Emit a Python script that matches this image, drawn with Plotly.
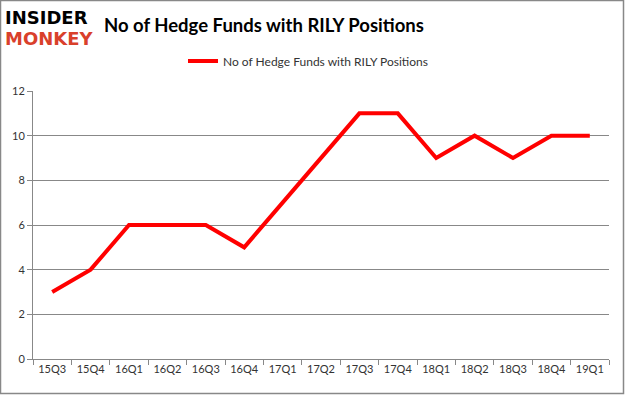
import plotly.graph_objects as go

quarters = ["15Q3", "15Q4", "16Q1", "16Q2", "16Q3", "16Q4", "17Q1", "17Q2",
            "17Q3", "17Q4", "18Q1", "18Q2", "18Q3", "18Q4", "19Q1"]
hedge_funds = [3, 4, 6, 6, 6, 5, 7, 9, 11, 11, 9, 10, 9, 10, 10]
y_ticks = [0, 2, 4, 6, 8, 10, 12]
series_name = "No of Hedge Funds with RILY Positions"

W, H = 625, 395
L, R, T, B = 33, 16, 91, 36
pw, ph = W - L - R, H - T - B

def px(x):
    return (x - L) / pw

def py(y):
    return (H - B - y) / ph

fig = go.Figure()
fig.add_trace(go.Scatter(
    x=quarters, y=hedge_funds, mode="lines", name=series_name,
    line=dict(color="#ff0000", width=4),
))

font_main = "Lato, 'Open Sans', sans-serif"

fig.update_layout(
    width=W, height=H,
    margin=dict(l=L, r=R, t=T, b=B, autoexpand=False),
    paper_bgcolor="white", plot_bgcolor="white",
    showlegend=True,
    legend=dict(orientation="h", x=px(183), y=py(61), xanchor="left", yanchor="middle",
                font=dict(family=font_main, size=12, color="#333333"),
                bgcolor="rgba(0,0,0,0)"),
    xaxis=dict(type="category", range=[-0.5, len(quarters) - 0.5], automargin=False,
               tickangle=0,
               tickson="boundaries", ticks="outside", ticklen=5, tickcolor="#888888",
               showline=True, linecolor="#888888", linewidth=1, showgrid=False,
               tickfont=dict(family=font_main, size=11, color="#333333")),
    yaxis=dict(range=[0, 12], tickvals=y_ticks, ticks="outside", ticklen=5, automargin=False,
               tickcolor="#888888", showline=True, linecolor="#888888", linewidth=1,
               showgrid=True, gridcolor="#888888", gridwidth=1, zeroline=False,
               tickfont=dict(family=font_main, size=11, color="#333333")),
    shapes=[dict(type="rect", xref="paper", yref="paper",
                 x0=px(0.5), x1=px(623.5), y0=py(393.5), y1=py(0.5),
                 line=dict(color="#888888", width=1.5))],
    annotations=[
        dict(text="<b>No of Hedge Funds with RILY Positions</b>", xref="paper", yref="paper",
             x=px(102), y=py(25), xanchor="left", yanchor="middle", showarrow=False,
             font=dict(family=font_main, size=18.5, color="black")),
        dict(text="<b>INSIDER</b>", xref="paper", yref="paper",
             x=px(3), y=py(17), xanchor="left", yanchor="middle", showarrow=False,
             font=dict(family="'DejaVu Sans', sans-serif", size=18, color="black")),
        dict(text="<b>MONKEY</b>", xref="paper", yref="paper",
             x=px(3), y=py(38), xanchor="left", yanchor="middle", showarrow=False,
             font=dict(family="'DejaVu Sans', sans-serif", size=18, color="#d9402b")),
    ],
)

fig.write_html("out.html", config={"displayModeBar": False},
               post_script="document.body.style.margin='0';document.body.style.overflow='hidden';")
